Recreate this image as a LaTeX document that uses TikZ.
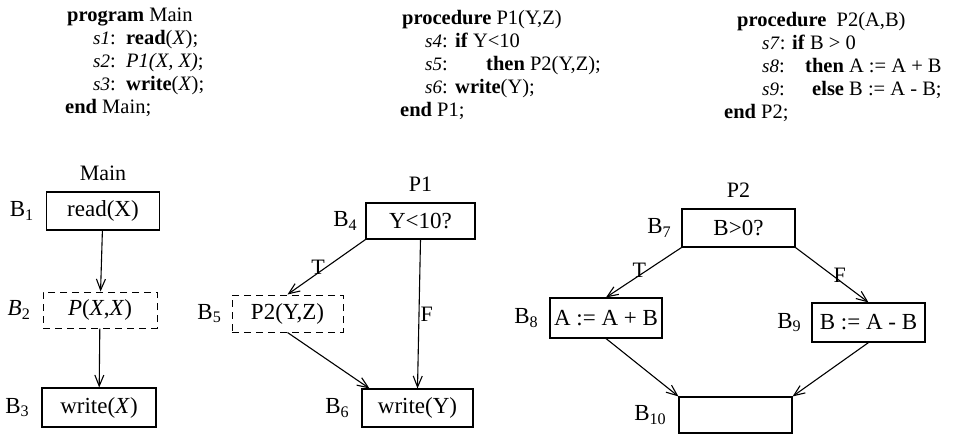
\documentclass[tikz,border=0pt]{standalone}
\usepackage{fontspec}
\setmainfont{Liberation Serif}
\usetikzlibrary{arrows.meta,positioning}
\tikzset{
  block/.style={draw=black, line width=1.1pt, minimum width=112pt, minimum height=38pt, inner sep=2pt, font=\fontsize{23}{26}\selectfont},
  callblock/.style={block, line width=1pt, dash pattern=on 7pt off 5pt},
  blockname/.style={inner sep=0pt, font=\fontsize{23}{26}\selectfont},
  proctitle/.style={inner sep=0pt, font=\fontsize{22}{26}\selectfont},
  flow/.style={-{Straight Barb[length=11pt,width=9pt]}, line width=1.1pt},
  branch/.style={inner sep=1pt, font=\fontsize{22}{26}\selectfont},
  code/.style={anchor=north west, inner sep=0pt, font=\fontsize{20.5}{23}\selectfont}
}
\newcommand{\stmtlabel}[1]{{\fontsize{19}{23}\selectfont\textit{#1}}:}
\begin{document}
\begin{tikzpicture}[x=1pt, y=-1pt]
\useasboundingbox (0,0) rectangle (958,434);
% source text
\node[code] (main code) at (65,5.5) {\begin{tabular}{@{\hspace{28pt}}p{33pt}@{}l@{}}
\multicolumn{2}{@{}l@{}}{\hspace*{2pt}\textbf{program} Main}\\
\stmtlabel{s1} & \textbf{read}(\textit{X});\\
\stmtlabel{s2} & \textit{P1(X, X)};\\
\stmtlabel{s3} & \textbf{write}(\textit{X});\\
\multicolumn{2}{@{}l@{}}{\textbf{end} Main;}
\end{tabular}};
\node[code] (p1 code) at (400,8) {\begin{tabular}{@{\hspace{25pt}}p{30pt}@{}l@{}}
\multicolumn{2}{@{}l@{}}{\hspace*{2pt}\textbf{procedure} P1(Y,Z)}\\
\stmtlabel{s4} & \textbf{if} Y<10\\
\stmtlabel{s5} & \hspace*{31pt}\textbf{then} P2(Y,Z);\\
\stmtlabel{s6} & \textbf{write}(Y);\\
\multicolumn{2}{@{}l@{}}{\textbf{end} P1;}
\end{tabular}};
\node[code] (p2 code) at (724,10) {\begin{tabular}{@{\hspace{38pt}}p{30pt}@{}l@{}}
\multicolumn{2}{@{}l@{}}{\hspace*{13pt}\textbf{procedure}\ \ P2(A,B)}\\
\stmtlabel{s7} & \textbf{if} B > 0\\
\stmtlabel{s8} & \hspace*{13pt}\textbf{then} A := A + B\\
\stmtlabel{s9} & \hspace*{20pt}\textbf{else} B := A - B;\\
\multicolumn{2}{@{}l@{}}{\textbf{end} P2;}
\end{tabular}};
% Main
\node[block, minimum width=113pt] (b1) at (103,211) {read(X)};
\node[callblock, minimum width=114pt, minimum height=36pt] (b2) at (100,310) {\textit{P}(\textit{X},\textit{X})};
\node[block, minimum width=114pt, minimum height=39pt] (b3) at (99,407.5) {write(\textit{X})};
\node[proctitle, above=11pt of b1] (main title) {Main};
\node[blockname, left=12pt of b1] (b1 name) {B\textsubscript{1}};
\node[blockname, left=12pt of b2] (b2 name) {\textit{B}\textsubscript{2}};
\node[blockname, left=12pt of b3] (b3 name) {B\textsubscript{3}};
\draw[flow] (b1) -- (b2);
\draw[flow] (b2) -- (b3);
% P1
\node[block, minimum width=109pt, minimum height=36pt] (b4) at (420.5,221) {Y<10?};
\node[callblock, minimum width=111pt, minimum height=37pt] (b5) at (287.5,313.5) {P2(Y,Z)};
\node[block, minimum width=111pt] (b6) at (417.5,408) {write(Y)};
\node[proctitle, above=11pt of b4] (p1 title) {P1};
\node[blockname, left=8pt of b4] (b4 name) {B\textsubscript{4}};
\node[blockname, left=10pt of b5] (b5 name) {B\textsubscript{5}};
\node[blockname, left=12pt of b6] (b6 name) {B\textsubscript{6}};
\draw[flow] (b4.south west) -- node[branch, pos=0.5, left] {T} (b5.north);
\draw[flow] (b4.south) -- node[branch, pos=0.5, right] {F} (b6.north);
\draw[flow] (b5.south) -- ([xshift=8pt]b6.north west);
% P2
\node[block, minimum width=113pt] (b7) at (738.5,228) {B>0?};
\node[block, minimum height=40pt] (b8) at (606,318) {A := A + B};
\node[block, minimum width=113pt, minimum height=39pt] (b9) at (868.5,322.5) {B := A - B};
\node[block, minimum width=113pt, minimum height=36pt] (b10) at (735.5,415) {};
\node[proctitle, above=11pt of b7] (p2 title) {P2};
\node[blockname, left=10pt of b7] (b7 name) {B\textsubscript{7}};
\node[blockname, left=11pt of b8] (b8 name) {B\textsubscript{8}};
\node[blockname, left=10pt of b9] (b9 name) {B\textsubscript{9}};
\node[blockname, left=12pt of b10] (b10 name) {B\textsubscript{10}};
\draw[flow] (b7.south west) -- node[branch, pos=0.45, left] {T} (b8.north);
\draw[flow] (b7.south east) -- node[branch, pos=0.5, right] {F} (b9.north);
\draw[flow] (b8.south) -- (b10.north west);
\draw[flow] (b9.south) -- (b10.north east);
\end{tikzpicture}
\end{document}
